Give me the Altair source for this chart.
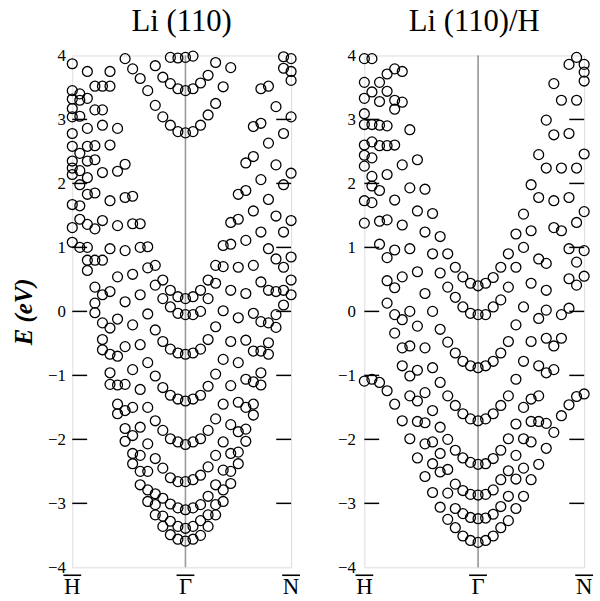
import altair as alt
import pandas as pd

# ---------------- data ----------------
K_TICKS = [0, 15, 29]          # k-point index of H, Gamma, N
K_NAMES = ["H", "\u0393", "N"]
E_TICKS = [-4, -3, -2, -1, 0, 1, 2, 3, 4]
E_INNER = [-3, -2, -1, 0, 1, 2, 3]
TITLES = ["Li (110)", "Li (110)/H"]

# Li(110): energies (eV) of the circles at each k-point index 0..29
LI_00 = [3.87, 3.45, 3.32, 3.17, 3.04, 2.78, 2.58, 2.35, 2.24, 2.14, 1.67, 1.31, 1.08]
LI_01 = [3.40, 3.30, 3.05, 2.47, 2.20, 1.98, 1.65, 1.44, 1.00]
LI_02 = [3.75, 3.33, 2.86, 2.58, 2.35, 2.09, 1.83, 1.36, 1.00, 0.80, 0.64]
LI_03 = [3.52, 3.15, 2.59, 2.37, 1.85, 1.29, 0.80, 0.38, 0.13, -0.02]
LI_04 = [3.52, 3.15, 2.91, 2.17, 1.42, 0.80, 0.26, -0.18, -0.44, -0.60]
LI_05 = [3.75, 3.52, 2.60, 1.73, 0.98, 0.31, -0.26, -0.67, -0.96, -1.14]
LI_06 = [2.86, 2.19, 1.34, 0.54, -0.12, -0.70, -1.15, -1.45, -1.60]
LI_07 = [3.95, 2.30, 1.78, 0.95, 0.15, -0.55, -1.14, -1.55, -1.83, -2.03]
LI_08 = [3.79, 1.80, 1.37, 0.58, -0.21, -0.91, -1.50, -1.94, -2.22, -2.38]
LI_09 = [3.64, 1.37, 1.00, 0.26, -0.52, -1.22, -1.81, -2.25, -2.50, -2.71]
LI_10 = [3.45, 1.01, 0.68, -0.04, -0.80, -1.50, -2.07, -2.50, -2.79, -2.97]
LI_11 = [3.84, 3.22, 0.72, 0.41, -0.29, -1.01, -1.71, -2.30, -2.85, -3.02, -3.18]
LI_12 = [3.66, 3.04, 0.49, 0.20, -0.47, -1.19, -1.86, -2.45, -2.92, -3.20, -3.36]
LI_13 = [3.97, 3.56, 2.91, 0.33, 0.07, -0.59, -1.31, -1.99, -2.60, -3.01, -3.28, -3.49]
LI_14 = [3.96, 3.48, 2.81, 0.23, -0.03, -0.65, -1.37, -2.04, -2.66, -3.07, -3.36, -3.56]
LI_15 = [3.97, 3.45, 2.79, 0.20, -0.05, -0.67, -1.40, -2.08, -2.66, -3.10, -3.39, -3.59]
LI_16 = [3.99, 3.48, 2.81, 0.23, -0.05, -0.65, -1.37, -2.04, -2.63, -3.07, -3.36, -3.56]
LI_17 = [3.57, 2.91, 0.33, 0.00, -0.59, -1.31, -1.99, -2.56, -3.02, -3.27, -3.50]
LI_18 = [3.69, 3.07, 0.49, 0.20, -0.44, -1.17, -1.86, -2.43, -2.89, -3.18, -3.36]
LI_19 = [3.89, 3.25, 0.72, 0.44, -0.24, -0.98, -1.68, -2.25, -2.71, -3.02, -3.18]
LI_20 = [3.51, 1.03, 0.70, 0.01, -0.75, -1.45, -2.04, -2.48, -2.79, -2.97]
LI_21 = [3.81, 1.39, 1.05, 0.33, -0.47, -1.16, -1.77, -2.22, -2.50, -2.69]
LI_22 = [1.83, 1.44, 0.69, -0.10, -0.80, -1.42, -1.88, -2.20, -2.38]
LI_23 = [2.32, 1.89, 1.11, 0.28, -0.45, -1.06, -1.50, -1.84, -2.03]
LI_24 = [2.89, 2.42, 1.57, 0.72, -0.03, -0.62, -1.10, -1.45, -1.62]
LI_25 = [3.48, 2.94, 2.06, 1.24, 0.46, -0.16, -0.62, -0.96, -1.15]
LI_26 = [3.52, 2.63, 1.75, 0.98, 0.33, -0.18, -0.49, -0.67]
LI_27 = [3.20, 2.29, 1.49, 0.82, 0.31, -0.05, -0.25]
LI_28 = [3.98, 3.80, 2.78, 1.98, 1.24, 0.69, 0.33, 0.10]
LI_29 = [3.95, 3.75, 3.61, 3.04, 2.16, 1.42, 0.85, 0.49, 0.26]

# Li(110)/H
LIH_00 = [3.95, 3.58, 3.33, 3.09, 2.92, 2.60, 2.44, 2.27, 1.73, 1.38, -1.09]
LIH_01 = [3.95, 3.43, 2.92, 2.65, 2.40, 2.11, 1.96, 1.70, -1.06]
LIH_02 = [3.58, 3.28, 2.91, 2.59, 1.89, 1.41, 1.05, -1.11]
LIH_03 = [3.71, 3.44, 2.90, 2.59, 2.14, 1.43, 0.84, 0.48, 0.13, -1.24]
LIH_04 = [3.79, 3.30, 3.16, 2.60, 1.74, 0.96, 0.37, -0.05, -0.34, -1.45]
LIH_05 = [3.75, 3.27, 2.29, 1.35, 0.54, -0.13, -0.57, -0.85, -1.71]
LIH_06 = [2.84, 1.93, 0.98, 0.00, -0.54, -1.01, -1.32, -1.99]
LIH_07 = [2.37, 1.57, 0.62, -0.23, -0.92, -1.40, -1.72, -2.29]
LIH_08 = [1.91, 1.24, 0.28, -0.57, -1.27, -1.74, -2.07, -2.58]
LIH_09 = [1.53, 0.90, 0.00, -0.88, -1.55, -2.04, -2.38, -2.83]
LIH_10 = [1.17, 0.60, -0.28, -1.11, -1.81, -2.22, -2.51, -3.06]
LIH_11 = [0.90, 0.38, -0.48, -1.32, -2.00, -2.47, -2.84, -3.25]
LIH_12 = [0.69, 0.22, -0.65, -1.47, -2.17, -2.70, -3.08, -3.38]
LIH_13 = [0.54, 0.07, -0.78, -1.60, -2.29, -2.80, -3.16, -3.51]
LIH_14 = [0.44, -0.03, -0.85, -1.68, -2.36, -2.86, -3.22, -3.58]
LIH_15 = [0.40, -0.05, -0.88, -1.71, -2.39, -2.87, -3.24, -3.61]
LIH_16 = [0.44, -0.05, -0.85, -1.68, -2.38, -2.86, -3.23, -3.58]
LIH_17 = [0.53, 0.07, -0.78, -1.60, -2.30, -2.79, -3.17, -3.51]
LIH_18 = [0.69, 0.18, -0.65, -1.47, -2.17, -2.63, -3.05, -3.38]
LIH_19 = [0.90, 0.38, -0.47, -1.32, -1.99, -2.49, -2.89, -3.27]
LIH_20 = [1.21, 0.69, -0.21, -1.06, -1.76, -2.25, -2.62, -3.08]
LIH_21 = [1.52, 1.00, 0.07, -0.78, -1.50, -1.99, -2.45, -2.89]
LIH_22 = [1.98, 1.26, 0.44, -0.47, -1.37, -1.72, -2.04, -2.63]
LIH_23 = [2.45, 1.78, 0.82, -0.11, -0.85, -1.32, -1.72, -2.39]
LIH_24 = [2.99, 2.24, 0.75, 0.33, 0.02, -0.42, -0.96, -1.75, -2.14]
LIH_25 = [3.56, 2.76, 1.73, 1.31, -0.54, -0.91, -1.89]
LIH_26 = [3.30, 2.24, 1.26, -0.05, -0.42, -1.63]
LIH_27 = [3.86, 2.78, 1.78, 0.98, 0.51, 0.05, -1.46]
LIH_28 = [3.97, 3.30, 2.24, 1.39, 0.77, 0.41, -1.33]
LIH_29 = [3.86, 3.74, 3.60, 2.46, 1.56, 0.95, 0.55, -1.29]

LI_COLS = [LI_00, LI_01, LI_02, LI_03, LI_04, LI_05, LI_06, LI_07, LI_08, LI_09,
           LI_10, LI_11, LI_12, LI_13, LI_14, LI_15, LI_16, LI_17, LI_18, LI_19,
           LI_20, LI_21, LI_22, LI_23, LI_24, LI_25, LI_26, LI_27, LI_28, LI_29]
LIH_COLS = [LIH_00, LIH_01, LIH_02, LIH_03, LIH_04, LIH_05, LIH_06, LIH_07, LIH_08, LIH_09,
            LIH_10, LIH_11, LIH_12, LIH_13, LIH_14, LIH_15, LIH_16, LIH_17, LIH_18, LIH_19,
            LIH_20, LIH_21, LIH_22, LIH_23, LIH_24, LIH_25, LIH_26, LIH_27, LIH_28, LIH_29]


def to_frame(cols):
    rows = [{"k": i, "E": e} for i, col in enumerate(cols) for e in col]
    return pd.DataFrame(rows)


FONT = "Liberation Serif, Times New Roman, serif"
H = 517


def panel(cols, title, W, ytitle, gamma_color, gamma_width, label_pad):
    xdef = alt.X("k:Q", scale=alt.Scale(domain=[0, 29], nice=False, zero=False),
                 axis=None)
    yaxis = dict(values=E_TICKS, ticks=False, domain=False, grid=False,
                 labelFont=FONT, labelFontSize=17, labelColor="black",
                 labelPadding=label_pad, format="d")
    if ytitle:
        yaxis.update(title=ytitle, titleFont=FONT, titleFontSize=25,
                     titleFontStyle="italic", titleFontWeight="bold",
                     titleColor="black", titlePadding=11)
    else:
        yaxis.update(title=None)
    ydef = alt.Y("E:Q", scale=alt.Scale(domain=[-4, 4], nice=False, zero=False),
                 axis=alt.Axis(**yaxis))

    pts = alt.Chart(to_frame(cols)).mark_point(
        shape="circle", filled=False, color="black", size=100, strokeWidth=1.3,
        opacity=1, clip=False
    ).encode(x=xdef, y=ydef)

    gamma = alt.Chart(pd.DataFrame({"k": [K_TICKS[1]]})).mark_rule(
        color=gamma_color, strokeWidth=gamma_width
    ).encode(x=xdef)

    tick_df = pd.DataFrame({"E": E_INNER})
    ticks_l = alt.Chart(tick_df).mark_rule(color="black", strokeWidth=1.5).encode(
        y=ydef, x=alt.value(0), x2=alt.value(15))
    ticks_r = alt.Chart(tick_df).mark_rule(color="black", strokeWidth=1.5).encode(
        y=ydef, x=alt.value(W - 15), x2=alt.value(W))

    kdf = pd.DataFrame({"k": K_TICKS, "name": K_NAMES})
    klabels = alt.Chart(kdf).mark_text(
        font=FONT, fontSize=23, baseline="top", align="center", color="black"
    ).encode(x=xdef, y=alt.value(H + 9), text="name:N")
    kbars = alt.Chart(kdf).mark_rule(
        color="black", strokeWidth=1.6, xOffset=-9, x2Offset=9
    ).encode(x=xdef, x2="k:Q", y=alt.value(H + 8))

    return alt.layer(gamma, ticks_l, ticks_r, pts, klabels, kbars).properties(
        width=W, height=H,
        title=alt.TitleParams(title, font=FONT, fontSize=31, fontWeight="normal",
                              color="black", offset=9, anchor="middle"))


left = panel(LI_COLS, TITLES[0], 221, "E (eV)", "#9a9a9a", 1.6, 7)
right = panel(LIH_COLS, TITLES[1], 222, None, "#555555", 1.0, 9)

chart = alt.HConcatChart(hconcat=[left, right], spacing=74, bounds="flush").properties(
    padding={"left": 11, "top": 2, "right": 5, "bottom": 0}
).configure_view(stroke="black", strokeWidth=1.6).configure(background="white")

chart.save("out.html", embed_options={"renderer": "svg", "actions": False})
